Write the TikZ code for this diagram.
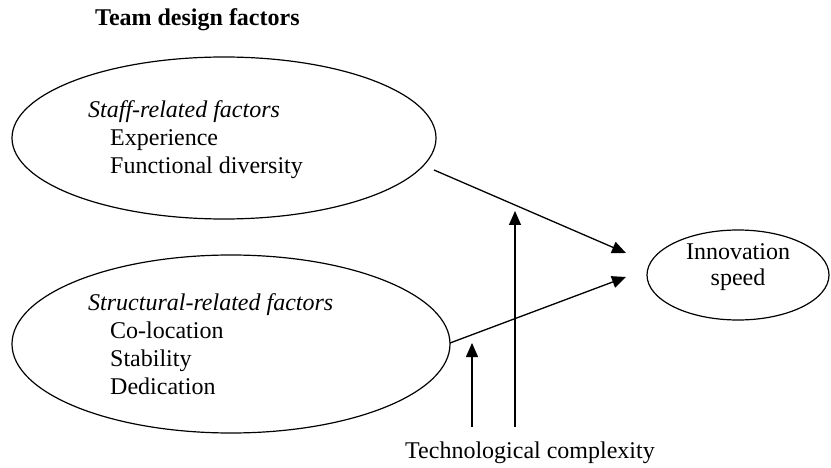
\documentclass[tikz,border=0pt]{standalone}
\usepackage{fontspec}
\setmainfont{Liberation Serif}
\usetikzlibrary{shapes.geometric,arrows.meta}
\begin{document}
\begin{tikzpicture}[x=1pt,y=-1pt,
  oval/.style={draw,line width=1.2pt,ellipse,inner sep=0pt},
  lbl/.style={anchor=base west,inner sep=0pt,font=\fontsize{24}{28}\selectfont},
  clbl/.style={anchor=base,inner sep=0pt,font=\fontsize{24}{28}\selectfont},
  conn/.style={line width=1.3pt,-{Triangle[length=14pt,width=12pt]}}]
\useasboundingbox (0,0) rectangle (831,468);
\node[anchor=base west,inner sep=0pt,font=\fontsize{24}{28}\selectfont\bfseries] (title) at (95,26) {Team design factors};
\node[oval,minimum width=424pt,minimum height=162pt] (staff) at (224,138) {};
\node[oval,minimum width=438pt,minimum height=178pt] (struct) at (231,344) {};
\node[oval,minimum width=182pt,minimum height=90pt] (speed) at (738,275) {};
\node[lbl] (s0) at (88,118) {\itshape Staff-related factors};
\node[lbl] (s1) at (110,146) {Experience};
\node[lbl] (s2) at (110,174) {Functional diversity};
\node[lbl] (t0) at (88,310) {\itshape Structural-related factors};
\node[lbl] (t1) at (110,338) {Co-location};
\node[lbl] (t2) at (110,366) {Stability};
\node[lbl] (t3) at (110,394) {Dedication};
\node[clbl] (sp1) at (738,260) {Innovation};
\node[clbl] (sp2) at (738,286) {speed};
\node[clbl] (tech) at (530,458) {Technological complexity};
\coordinate (a1s) at (434,170);
\coordinate (a1e) at (626,253);
\coordinate (a2s) at (450,343);
\coordinate (a2e) at (626,277);
\coordinate (v1s) at (515,427);
\coordinate (v1e) at (515,211);
\coordinate (v2s) at (472,427);
\coordinate (v2e) at (472,343);
\draw[conn] (a1s) -- (a1e);
\draw[conn] (a2s) -- (a2e);
\draw[conn] (v1s) -- (v1e);
\draw[conn] (v2s) -- (v2e);
\end{tikzpicture}
\end{document}
